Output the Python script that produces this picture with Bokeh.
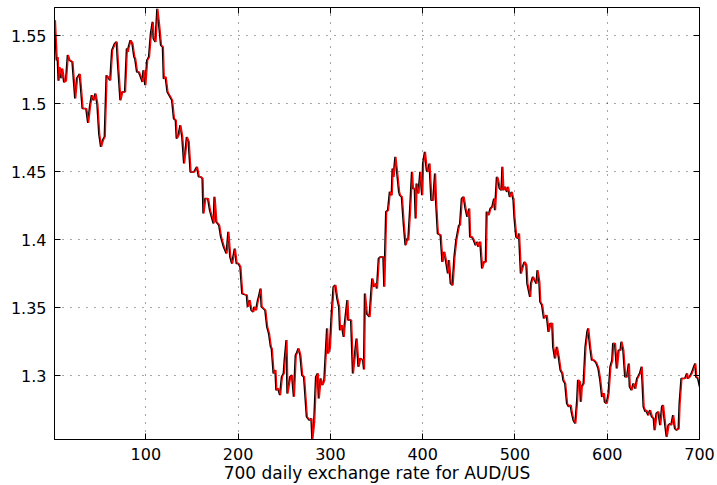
from bokeh.plotting import figure
from bokeh.models import FixedTicker, LinearAxis, Range1d
from bokeh.embed import file_html
from bokeh.resources import INLINE

# day index and AUD/US exchange rate readings
days = [1, 3, 4, 5, 6, 8, 9, 11, 13, 15, 17, 20, 23, 25, 28, 31, 35, 37, 39, 41,
        43, 45, 47, 49, 51, 53, 55, 57, 61, 63, 66, 68, 69, 72, 74, 77, 79, 80, 81, 83,
        85, 87, 88, 90, 92, 94, 96, 97, 99, 101, 103, 105, 107, 108, 110, 112, 114, 116, 118, 119,
        121, 123, 125, 126, 128, 130, 132, 133, 135, 137, 139, 141, 143, 144, 146, 148, 152, 155, 157, 159,
        161, 162, 164, 167, 169, 170, 173, 174, 176, 179, 181, 184, 187, 189, 191,
        193, 196, 198, 200, 202, 204, 206, 209, 210, 212, 214, 216, 217, 219, 221, 222, 224, 225, 227, 229,
        231, 233, 235, 236, 238, 240, 241, 243, 245, 247, 249, 250, 252, 253, 256, 258, 260, 262, 263, 265,
        267, 269, 271, 274, 277, 279, 280, 282, 284, 286, 287, 289, 291, 293, 296, 297, 299, 301, 303, 305,
        307, 309, 310, 312, 314, 315, 318, 319, 322, 323, 324, 327, 328, 330, 332, 335, 336, 337, 339, 342,
        344, 345, 347, 349, 350, 352, 354, 357, 358, 360, 362, 364, 366, 367, 368, 370, 372, 374, 375, 377,
        379, 381, 383, 384, 386, 388, 389, 391, 392, 393, 395, 397, 399, 400, 402, 404, 405, 407, 409, 411,
        413, 414, 416, 419, 421, 423, 425, 427, 428, 430, 432, 434, 436, 439, 440,
        442, 444, 446, 448, 450, 451, 453, 455, 457, 459, 460, 462, 464, 466, 468, 469, 471, 473, 475, 477,
        478, 480, 481, 483, 485, 486, 487, 489, 491, 492, 494, 496, 498, 499, 501, 503, 504, 506, 508, 510,
        512, 513, 516, 517, 519, 521, 523, 524, 526, 527, 529, 531, 532, 534, 536, 538, 540, 541, 543, 545,
        547, 549, 551, 552, 554, 556, 558, 560, 561, 563, 565, 567, 568, 570, 571, 572, 574, 576, 578, 579,
        581, 583, 585, 587, 588, 590, 592, 594, 596, 597, 599, 601, 603, 605, 606, 608, 610, 612, 614, 615,
        617, 619, 621, 623, 624, 626, 628, 630, 632, 633, 635, 637, 639, 641, 642, 644, 646, 648, 650, 651,
        653, 655, 657, 659, 660, 662, 664, 666, 668, 669, 671, 673, 675, 677, 678, 680, 682, 684, 686, 687,
        689, 691, 693, 695, 696, 698, 700]

rate = [1.5615, 1.532, 1.5345, 1.517, 1.527, 1.519, 1.526, 1.516, 1.517, 1.536, 1.532, 1.531, 1.504, 1.519, 1.522, 1.4966, 1.4966, 1.486, 1.498, 1.5064,
        1.5027, 1.5076, 1.500, 1.478, 1.4684, 1.4733, 1.4758, 1.521, 1.5174, 1.5395, 1.5444, 1.5456, 1.5333, 1.5027, 1.5088, 1.5088, 1.5407, 1.5382, 1.5419, 1.5468,
        1.5444, 1.5346, 1.5333, 1.5235, 1.5235, 1.5199, 1.5162, 1.5248, 1.5137, 1.5321, 1.5346, 1.5517, 1.5603, 1.548, 1.5456, 1.5700, 1.5578, 1.5431, 1.5419, 1.5186,
        1.5199, 1.5088, 1.5064, 1.5052, 1.5027, 1.4892, 1.488, 1.4745, 1.477, 1.4843, 1.4758, 1.4562, 1.4684, 1.4757, 1.4721, 1.45, 1.45, 1.4537, 1.4464, 1.4464,
        1.4451, 1.4194, 1.4304, 1.4304, 1.4219, 1.4194, 1.4121, 1.4317, 1.4133, 1.4108, 1.4023, 1.3949, 1.39, 1.4059, 1.3876,
        1.3826, 1.3936, 1.3826, 1.3826, 1.3802, 1.3606, 1.360, 1.3594, 1.3508, 1.3557, 1.3483, 1.3471, 1.3508, 1.3483, 1.3557, 1.3581, 1.3642, 1.3508, 1.3495, 1.3483,
        1.3361, 1.3312, 1.3214, 1.3201, 1.3018, 1.3042, 1.2895, 1.2907, 1.2858, 1.2993, 1.3018, 1.3116, 1.3263, 1.287, 1.2993, 1.3005, 1.2846, 1.3153, 1.3165, 1.3201,
        1.3153, 1.3005, 1.2993, 1.2699, 1.2674, 1.2686, 1.2535, 1.2662, 1.2993, 1.3018, 1.2834, 1.2981, 1.2932, 1.2969, 1.3349, 1.3165, 1.3201, 1.3459, 1.3655, 1.3667,
        1.3569, 1.3508, 1.3336, 1.3373, 1.3287, 1.3373, 1.3557, 1.341, 1.341, 1.3214, 1.3018, 1.3214, 1.3275, 1.3067, 1.3128, 1.3116, 1.3047, 1.3606, 1.3459, 1.3434,
        1.3630, 1.3716, 1.3655, 1.3679, 1.3642, 1.3863, 1.3875, 1.3875, 1.3655, 1.4206, 1.4218, 1.4353, 1.4328, 1.4525, 1.4463, 1.461, 1.4488, 1.4353, 1.4328, 1.4316,
        1.412, 1.3961, 1.4010, 1.3998, 1.423, 1.45, 1.4378, 1.4378, 1.4157, 1.4414, 1.4341, 1.45, 1.4328, 1.4561, 1.4647, 1.4512, 1.45, 1.4561, 1.4292, 1.4292,
        1.4488, 1.4292, 1.4047, 1.4035, 1.3838, 1.3912, 1.3838, 1.3753, 1.3851, 1.3679, 1.3667, 1.3875, 1.3998, 1.4108, 1.4108,
        1.4304, 1.4316, 1.423, 1.4169, 1.423, 1.4022, 1.4022, 1.3998, 1.3961, 1.3986, 1.3949, 1.3986, 1.379, 1.3838, 1.3838, 1.4206, 1.4182, 1.423, 1.4243, 1.4304,
        1.4218, 1.4463, 1.4451, 1.4378, 1.4365, 1.4537, 1.4365, 1.439, 1.4353, 1.439, 1.4316, 1.4353, 1.4292, 1.4169, 1.4022, 1.401, 1.4047, 1.3753, 1.3802, 1.3838,
        1.3814, 1.3679, 1.3581, 1.3679, 1.3728, 1.3704, 1.3679, 1.3777, 1.3691, 1.3545, 1.352, 1.3422, 1.3434, 1.3446, 1.3324, 1.3385, 1.3385, 1.3214, 1.3128, 1.3214,
        1.314, 1.3042, 1.3018, 1.2969, 1.2944, 1.2797, 1.2773, 1.2785, 1.2736, 1.2675, 1.265, 1.2822, 1.2969, 1.2956, 1.2809, 1.292, 1.2944, 1.3214, 1.3324, 1.3349,
        1.3214, 1.3116, 1.3116, 1.3103, 1.3091, 1.3055, 1.2969, 1.2846, 1.2871, 1.2809, 1.2797, 1.2871, 1.3067, 1.3116, 1.3238, 1.3238, 1.3055, 1.3189, 1.3189, 1.3251,
        1.3189, 1.2993, 1.2993, 1.3091, 1.292, 1.2895, 1.2944, 1.2907, 1.2981, 1.2993, 1.3018, 1.3067, 1.2773, 1.2736, 1.2748, 1.2711, 1.2748, 1.2699, 1.2687, 1.2601,
        1.2724, 1.2736, 1.2638, 1.2773, 1.2785, 1.2662, 1.2552, 1.2638, 1.265, 1.2638, 1.2711, 1.2613, 1.2601, 1.2613, 1.2797, 1.2981, 1.2981, 1.2981, 1.3018, 1.2981,
        1.2993, 1.3018, 1.3055, 1.3091, 1.2993, 1.2981, 1.292]

# one-step-ahead prediction (red) lags the actual series by one day
pred_days = [d + 1 for d in days if d + 1 <= 700]
pred_rate = rate[:len(pred_days)]

x_ticks = [100, 200, 300, 400, 500, 600, 700]
y_ticks = [1.3, 1.35, 1.4, 1.45, 1.5, 1.55]
y_tick_labels = {1.3: "1.3", 1.35: "1.35", 1.4: "1.4", 1.45: "1.45", 1.5: "1.5", 1.55: "1.55"}
x_label = "700 daily exchange rate for AUD/US"

FONT = "DejaVu Sans"

p = figure(width=717, height=485, output_backend="svg", toolbar_location=None,
           x_range=Range1d(1, 700), y_range=Range1d(1.2532, 1.5709),
           min_border_left=54, min_border_right=18, min_border_top=7, min_border_bottom=46)
p.background_fill_color = "white"
p.border_fill_color = "white"
p.outline_line_color = "black"
p.outline_line_width = 1
p.outline_line_alpha = 1

for ax in (p.xaxis[0], p.yaxis[0]):
    ax.axis_line_color = "black"
    ax.major_tick_line_color = "black"
    ax.major_tick_in = 6
    ax.major_tick_out = 0
    ax.minor_tick_line_color = None
    ax.major_label_text_font = FONT
    ax.major_label_text_font_size = "16px"
    ax.major_label_text_color = "black"

p.xaxis.ticker = FixedTicker(ticks=x_ticks)
p.yaxis.ticker = FixedTicker(ticks=y_ticks)
p.yaxis.major_label_overrides = y_tick_labels
p.xaxis.major_label_standoff = 8
p.yaxis.major_label_standoff = 8
p.xaxis.axis_label = x_label
p.xaxis.axis_label_text_font = FONT
p.xaxis.axis_label_text_font_size = "17px"
p.xaxis.axis_label_text_font_style = "normal"
p.xaxis.axis_label_text_color = "black"
p.xaxis.axis_label_standoff = 0

top = LinearAxis(ticker=FixedTicker(ticks=x_ticks), major_label_text_font_size="1px",
                 major_label_text_color=None, major_label_standoff=0,
                 major_tick_in=6, major_tick_out=0,
                 minor_tick_line_color=None, axis_line_color="black", major_tick_line_color="black")
right = LinearAxis(ticker=FixedTicker(ticks=y_ticks), major_label_text_font_size="1px",
                   major_label_text_color=None, major_label_standoff=0,
                   major_tick_in=6, major_tick_out=0,
                   minor_tick_line_color=None, axis_line_color="black", major_tick_line_color="black")
p.add_layout(top, "above")
p.add_layout(right, "right")

p.grid.grid_line_color = "black"
p.grid.grid_line_alpha = 0.7
p.grid.grid_line_dash = "1 7"
p.grid.grid_line_width = 1

p.line(days, rate, line_color="black", line_width=1.5)
p.line(pred_days, pred_rate, line_color="red", line_width=1.3)

open("out.html", "w").write(file_html(p, INLINE))
